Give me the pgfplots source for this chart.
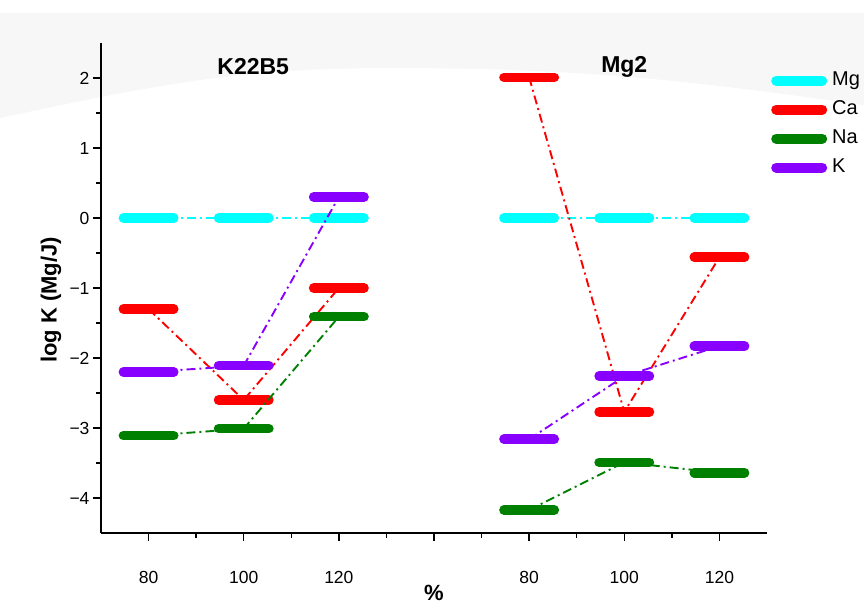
\documentclass[border=0pt]{standalone}
\usepackage{fontspec}
\setmainfont{Liberation Sans}
\usepackage{pgfplots}
\pgfplotsset{compat=1.18}

\definecolor{mgcol}{HTML}{00FFFF}
\definecolor{cacol}{HTML}{FF0000}
\definecolor{nacol}{HTML}{008000}
\definecolor{kcol}{HTML}{8800FF}
\definecolor{bggray}{HTML}{F7F7F7}

% x: 1,2,3 = K22B5 at 80/100/120 %, 5,6,7 = Mg2 at 80/100/120 %
\pgfplotstableread{
x y
1 0
2 0
3 0
4 nan
5 0
6 0
7 0
}\mgdata
\pgfplotstableread{
x y
1 -1.30
2 -2.60
3 -1.00
4 nan
5 2.01
6 -2.77
7 -0.56
}\cadata
\pgfplotstableread{
x y
1 -3.11
2 -3.01
3 -1.41
4 nan
5 -4.17
6 -3.49
7 -3.64
}\nadata
\pgfplotstableread{
x y
1 -2.20
2 -2.11
3 0.30
4 nan
5 -3.16
6 -2.26
7 -1.83
}\kdata

\begin{document}
\begin{tikzpicture}
\path[use as bounding box] (0pt,0pt) rectangle (864pt,-606pt);

% faint scanned background at the top
\fill[bggray] (8pt,-13pt) -- (864pt,-13pt) -- (864pt,-105pt)
  to[out=172,in=0] (390pt,-68pt) to[out=180,in=12] (0pt,-118pt) -- (0pt,-13pt) -- cycle;

\begin{axis}[
  at={(101pt,-533pt)}, anchor=south west,
  width=666pt, height=490pt, scale only axis,
  xmin=0.5, xmax=7.5, ymin=-4.5, ymax=2.5,
  axis lines=left, axis line style={-, line width=1.3pt},
  xtick={1,...,7}, xticklabels={80,100,120,,80,100,120},
  ytick={-4,-3,...,2}, yticklabels={−4,−3,−2,−1,0,1,2},
  minor x tick num=1, minor y tick num=1,
  tick align=outside, tick style={line width=1.3pt, black},
  major tick length=8pt, minor tick length=5pt,
  ticklabel style={font=\fontsize{17.5}{19}\selectfont},
  xticklabel style={yshift=-27pt},
  every axis x label/.style={at={(axis description cs:0.5,-0.1225)}, anchor=center,
    font=\fontsize{22}{24}\selectfont\bfseries},
  every axis y label/.style={at={(axis description cs:-0.075,0.4755)}, anchor=center,
    rotate=90, font=\fontsize{22}{24}\selectfont\bfseries},
  xlabel={\%}, ylabel={log K (Mg/J)},
  clip=false,
  unbounded coords=jump,
  every axis plot/.append style={
    line width=1.9pt, dash pattern=on 9pt off 4pt on 2pt off 4pt,
    mark=none,
    error bars/x dir=both, error bars/x fixed=0.265,
    error bars/error bar style={solid, line width=9.5pt, line cap=round},
    error bars/error mark=none},
  legend image code/.code={\draw[solid, line width=10pt, line cap=round] (0pt,0pt) -- (46pt,0pt);},
  legend style={at={(1.006,0.94)}, anchor=north west, draw=none, fill=none,
    inner sep=0pt, font=\fontsize{20}{22}\selectfont, row sep=13pt,
    nodes={inner sep=0pt, text height=13pt, text depth=3pt},
    /tikz/every odd column/.style={column sep=5pt}},
  legend cell align=left,
]
\addplot[mgcol] table[x=x, y=y] {\mgdata};
\addlegendentry{Mg}
\addplot[cacol] table[x=x, y=y] {\cadata};
\addlegendentry{Ca}
\addplot[nacol] table[x=x, y=y] {\nadata};
\addlegendentry{Na}
\addplot[kcol] table[x=x, y=y] {\kdata};
\addlegendentry{K}

\node[font=\fontsize{23}{25}\selectfont\bfseries] at (axis cs:2.1,2.16) {K22B5};
\node[font=\fontsize{23}{25}\selectfont\bfseries] at (axis cs:6.0,2.16) {Mg2};
\end{axis}
\end{tikzpicture}
\end{document}
